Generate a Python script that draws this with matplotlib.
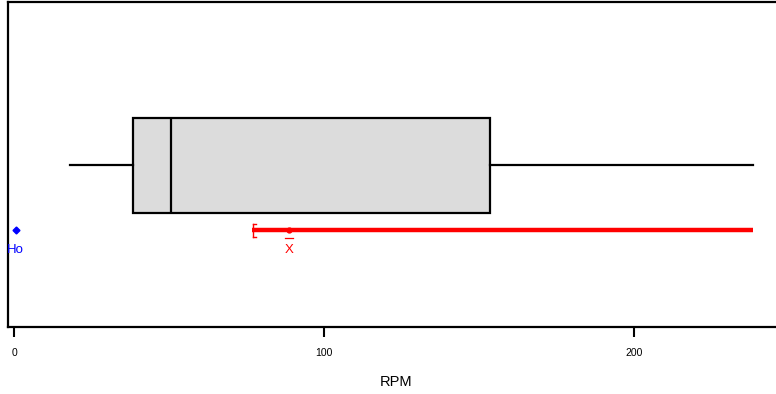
import matplotlib
matplotlib.use("Agg")
import matplotlib.pyplot as plt

plt.rcParams['font.family'] = ['Liberation Sans', 'DejaVu Sans']

# data (RPM)
whisker_low = 18.1
q1 = 38.4
median = 50.6
q3 = 153.5
whisker_high = 238.4
ci_low = 76.8
ci_high = 238.4
mean = 88.7
h0 = 0.5
xticks = [0, 100, 200]
xlabel = "RPM"

fig = plt.figure(figsize=(7.76, 3.94), dpi=100)
ax = fig.add_axes([8/776, 1 - 327/394, 1.0 - 8/776 + 0.01, (327 - 2)/394])

stats = [dict(med=median, q1=q1, q3=q3, whislo=whisker_low, whishi=whisker_high, fliers=[])]
ax.bxp(stats, positions=[0.498], widths=[0.292], vert=False, patch_artist=True,
       showcaps=False,
       boxprops=dict(facecolor='#dcdcdc', edgecolor='black', linewidth=1.6),
       medianprops=dict(color='black', linewidth=1.6),
       whiskerprops=dict(color='black', linewidth=1.6))

yci = 0.298
ax.plot([ci_low, ci_high], [yci, yci], color='red', linewidth=3.2, solid_capstyle='butt')
ax.plot([ci_low + 0.3, ci_low + 0.3], [yci - 0.02, yci + 0.02], color='red', linewidth=1.0)
ax.plot([ci_low + 0.3, ci_low + 1.2], [yci + 0.02, yci + 0.02], color='red', linewidth=1.0)
ax.plot([ci_low + 0.3, ci_low + 1.2], [yci - 0.02, yci - 0.02], color='red', linewidth=1.0)
ax.plot([mean], [yci], marker='o', color='red', markersize=3.5)
ax.text(mean, 0.238, "X", color='red', ha='center', va='center', fontsize=9.5)
ax.plot([mean - 1.3, mean + 1.3], [0.274, 0.274], color='red', linewidth=0.9)

ax.plot([h0], [yci], marker='D', color='blue', markersize=3.5, linestyle='none')
ax.text(h0, 0.238, "Ho", color='blue', ha='center', va='center', fontsize=9.5)

ax.set_xlim(-1.94, -1.94 + (783.76 - 8) / 3.1)
ax.set_ylim(0, 1)
ax.set_yticks([])
ax.set_xticks(xticks)
ax.set_xticklabels([str(t) for t in xticks], fontsize=7.5)
ax.tick_params(axis='x', length=7, width=1.5, pad=8)
ax.spines['right'].set_visible(False)
for s in ['left', 'bottom', 'top']:
    ax.spines[s].set_linewidth(1.6)
ax.set_xlabel(xlabel, fontsize=10.5, labelpad=12)

fig.savefig("out.png", dpi=100)
